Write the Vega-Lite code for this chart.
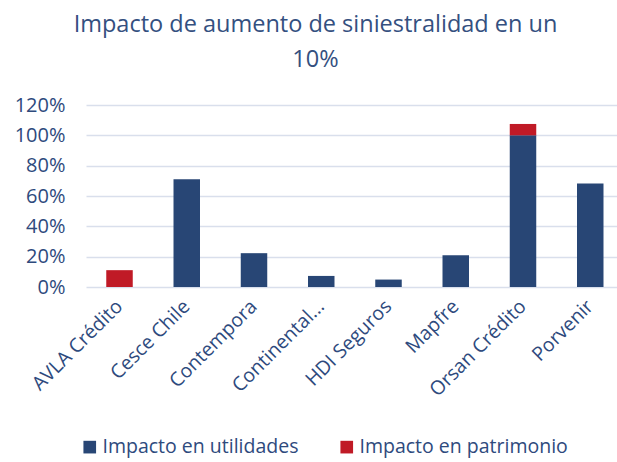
{
  "$schema": "https://vega.github.io/schema/vega-lite/v6.json",
  "width": 531,
  "height": 182,
  "autosize": {"type": "none"},
  "padding": {"left": 86, "top": 105, "right": 0, "bottom": 175},
  "background": "white",
  "title": {
    "text": ["Impacto de aumento de siniestralidad en un", "10%"],
    "font": "Open Sans",
    "fontSize": 23.5,
    "fontWeight": "normal",
    "color": "#34507F",
    "anchor": "middle",
    "dx": -36,
    "offset": 24,
    "lineHeight": 35
  },
  "config": {
    "view": {"stroke": null},
    "font": "Open Sans"
  },
  "data": {
    "values": [
      {"company": "AVLA Crédito", "series": "Impacto en utilidades", "value": 0, "o": 1},
      {"company": "AVLA Crédito", "series": "Impacto en patrimonio", "value": 0.111, "o": 2},
      {"company": "Cesce Chile", "series": "Impacto en utilidades", "value": 0.71, "o": 1},
      {"company": "Cesce Chile", "series": "Impacto en patrimonio", "value": 0, "o": 2},
      {"company": "Contempora", "series": "Impacto en utilidades", "value": 0.223, "o": 1},
      {"company": "Contempora", "series": "Impacto en patrimonio", "value": 0, "o": 2},
      {"company": "Continental...", "series": "Impacto en utilidades", "value": 0.073, "o": 1},
      {"company": "Continental...", "series": "Impacto en patrimonio", "value": 0, "o": 2},
      {"company": "HDI Seguros", "series": "Impacto en utilidades", "value": 0.049, "o": 1},
      {"company": "HDI Seguros", "series": "Impacto en patrimonio", "value": 0, "o": 2},
      {"company": "Mapfre", "series": "Impacto en utilidades", "value": 0.209, "o": 1},
      {"company": "Mapfre", "series": "Impacto en patrimonio", "value": 0, "o": 2},
      {"company": "Orsan Crédito", "series": "Impacto en utilidades", "value": 1.0, "o": 1},
      {"company": "Orsan Crédito", "series": "Impacto en patrimonio", "value": 0.075, "o": 2},
      {"company": "Porvenir", "series": "Impacto en utilidades", "value": 0.683, "o": 1},
      {"company": "Porvenir", "series": "Impacto en patrimonio", "value": 0, "o": 2}
    ]
  },
  "mark": {"type": "bar"},
  "encoding": {
    "x": {
      "field": "company",
      "type": "nominal",
      "sort": null,
      "title": null,
      "scale": {"paddingInner": 0.606, "paddingOuter": 0.251, "align": 0.6},
      "axis": {
        "labelAngle": -45,
        "labelAlign": "right",
        "labelBaseline": "middle",
        "labelFontSize": 19.5,
        "labelColor": "#2E4A7D",
        "labelPadding": 16,
        "labelLimit": 300,
        "domain": false,
        "ticks": false,
        "grid": false
      }
    },
    "y": {
      "field": "value",
      "type": "quantitative",
      "stack": "zero",
      "title": null,
      "scale": {"domain": [0, 1.2], "nice": false},
      "axis": {
        "values": [0, 0.2, 0.4, 0.6, 0.8, 1.0, 1.2],
        "format": ".0%",
        "labelFontSize": 20,
        "labelColor": "#2E4A7D",
        "labelPadding": 21,
        "domain": false,
        "ticks": false,
        "grid": true,
        "gridColor": "#D9DFEC",
        "gridWidth": 1.5
      }
    },
    "color": {
      "field": "series",
      "type": "nominal",
      "sort": ["Impacto en utilidades", "Impacto en patrimonio"],
      "scale": {
        "domain": ["Impacto en utilidades", "Impacto en patrimonio"],
        "range": ["#284675", "#C01A26"]
      },
      "legend": {
        "title": null,
        "orient": "none",
        "direction": "horizontal",
        "legendX": -6,
        "legendY": 332,
        "symbolType": "square",
        "symbolSize": 160,
        "symbolStrokeWidth": 0,
        "labelFontSize": 19.5,
        "labelColor": "#2E4A7D",
        "labelOffset": 3,
        "columnPadding": 38,
        "labelLimit": 400
      }
    },
    "order": {"field": "o", "type": "quantitative"}
  }
}
